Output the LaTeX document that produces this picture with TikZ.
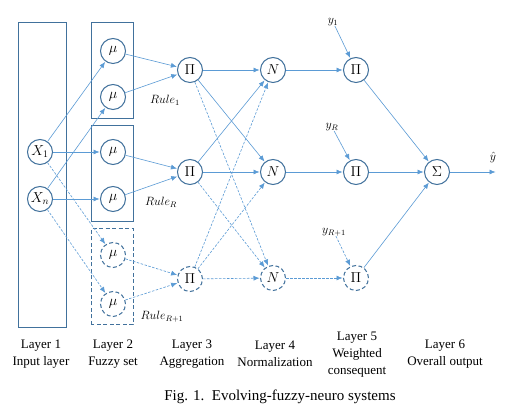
\documentclass[tikz,border=0pt]{standalone}
\usepackage{fontspec}
\setmainfont{Liberation Serif}
\usetikzlibrary{arrows.meta}
\begin{document}
\begin{tikzpicture}[x=1pt,y=1pt,
  neuron/.style={circle,draw=nodeColor,line width=1pt,minimum size=25pt,inner sep=0pt,font=\fontsize{14}{16}\selectfont},
  ghost/.style={neuron,dash pattern=on 4pt off 2.5pt},
  link/.style={draw=lineColor,line width=0.6pt,-{Latex[length=6pt,width=5pt]},shorten >=0.5pt},
  dlink/.style={link,dash pattern=on 2.5pt off 1.5pt},
  rulelbl/.style={inner sep=0pt,font=\fontsize{12}{14}\selectfont},
  layerlbl/.style={align=center,inner sep=0pt,font=\fontsize{13}{17}\selectfont}]
\definecolor{fillColor}{RGB}{255,255,255}
\definecolor{nodeColor}{RGB}{65,113,156}
\definecolor{lineColor}{RGB}{91,155,213}
\path[use as bounding box,fill=fillColor] (0,0) rectangle (512,412);

\path[draw=nodeColor,line width=1pt] ( 18, 84) rectangle ( 66,389);

\path[draw=nodeColor,line width=1pt] ( 91,293) rectangle (133,389);

\path[draw=nodeColor,line width=1pt] ( 91,190) rectangle (133,286);

\path[draw=nodeColor,line width=1pt,dash pattern=on 4pt off 2.5pt] ( 91, 87) rectangle (133,183);

\node[neuron] (x1) at ( 40,260) {$X_1$};

\node[neuron] (xn) at ( 40,213) {$X_n$};

\node[neuron] (mu1) at (113,361) {$\mu$};

\node[neuron] (mu2) at (113,315) {$\mu$};

\node[neuron] (mu3) at (113,260) {$\mu$};

\node[neuron] (mu4) at (113,213) {$\mu$};

\node[ghost] (mu5) at (113,157) {$\mu$};

\node[ghost] (mu6) at (113,108) {$\mu$};

\node[neuron] (agg1) at (190,342) {$\Pi$};

\node[neuron] (agg2) at (190,240) {$\Pi$};

\node[ghost] (agg3) at (190,133) {$\Pi$};

\node[neuron] (nrm1) at (273,342) {$N$};

\node[neuron] (nrm2) at (273,240) {$N$};

\node[ghost] (nrm3) at (273,134) {$N$};

\node[neuron] (wc1) at (356,342) {$\Pi$};

\node[neuron] (wc2) at (356,240) {$\Pi$};

\node[ghost] (wc3) at (356,134) {$\Pi$};

\node[neuron] (sum) at (437,240) {$\Sigma$};

\coordinate (out) at (496,240);

\node[rulelbl] (r1) at (165,312) {$Rule_1$};

\node[rulelbl] (rR) at (161,210) {$Rule_R$};

\node[rulelbl] (rR1) at (162, 95) {$Rule_{R+1}$};

\node[rulelbl] (y1) at (333,390) {$y_1$};

\node[rulelbl] (yR) at (332,285) {$y_R$};

\node[rulelbl] (yR1) at (334,180) {$y_{R+1}$};

\node[rulelbl] (yhat) at (493,254) {$\hat{y}$};

\path[link] (x1) -- (mu1);

\path[link] (x1) -- (mu3);

\path[dlink] (x1) -- (mu5);

\path[link] (xn) -- (mu2);

\path[link] (xn) -- (mu4);

\path[dlink] (xn) -- (mu6);

\path[link] (mu1) -- (agg1);

\path[link] (mu2) -- (agg1);

\path[link] (mu3) -- (agg2);

\path[link] (mu4) -- (agg2);

\path[dlink] (mu5) -- (agg3);

\path[dlink] (mu6) -- (agg3);

\path[link] (agg1) -- (nrm1);

\path[link] (agg1) -- (nrm2);

\path[dlink] (agg1) -- (nrm3);

\path[link] (agg2) -- (nrm1);

\path[link] (agg2) -- (nrm2);

\path[dlink] (agg2) -- (nrm3);

\path[dlink] (agg3) -- (nrm1);

\path[dlink] (agg3) -- (nrm2);

\path[dlink] (agg3) -- (nrm3);

\path[link] (nrm1) -- (wc1);

\path[link] (nrm2) -- (wc2);

\path[dlink] (nrm3) -- (wc3);

\path[link] (y1) -- (wc1);

\path[link] (yR) -- (wc2);

\path[dlink] (yR1) -- (wc3);

\path[link] (wc1) -- (sum);

\path[link] (wc2) -- (sum);

\path[link] (wc3) -- (sum);

\path[link] (sum) -- (out);

\node[layerlbl] (l1) at ( 41, 58) {Layer 1\\Input layer};

\node[layerlbl] (l2) at (113, 58) {Layer 2\\Fuzzy set};

\node[layerlbl] (l3) at (192, 58) {Layer 3\\Aggregation};

\node[layerlbl] (l4) at (275, 58) {Layer 4\\Normalization};

\node[layerlbl] (l5) at (357, 57) {Layer 5\\Weighted\\consequent};

\node[layerlbl] (l6) at (445, 58) {Layer 6\\Overall output};

\node[inner sep=0pt,font=\fontsize{15}{18}\selectfont] (cap) at (280, 15) {Fig. 1.\ \ Evolving-fuzzy-neuro systems};
\end{tikzpicture}
\end{document}
